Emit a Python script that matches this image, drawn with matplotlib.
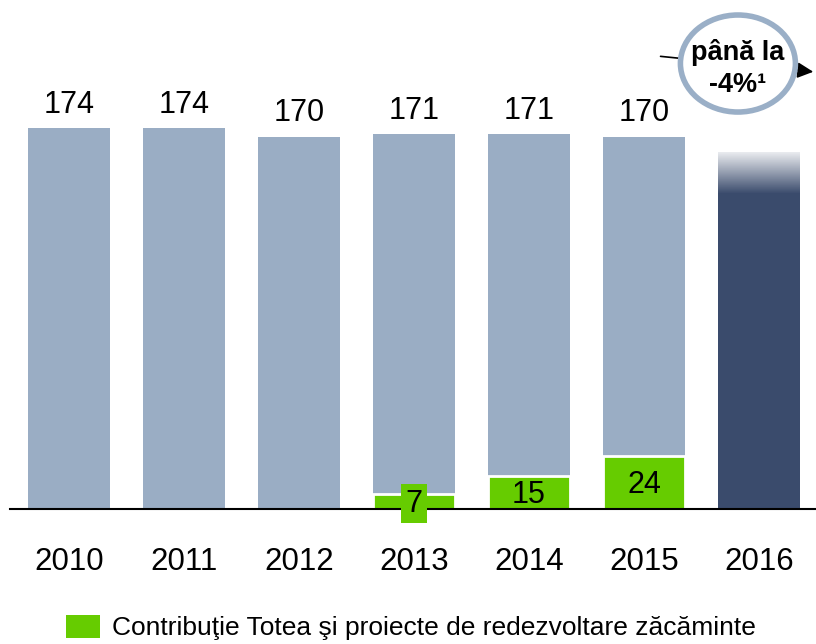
import numpy as np
import matplotlib
matplotlib.use('Agg')
import matplotlib.pyplot as plt
from matplotlib.patches import Ellipse, Patch

plt.rcParams['font.family'] = ['Liberation Sans', 'DejaVu Sans']

years = ['2010', '2011', '2012', '2013', '2014', '2015', '2016']
totals = [174, 174, 170, 171, 171, 170]
totea = [7, 15, 24]
totea_years = ['2013', '2014', '2015']
value_2016 = 163

gray = '#9aadc4'
green = '#66cc00'
navy = '#3a4b6c'

fig = plt.figure(figsize=(8.16, 6.44), dpi=100)
ax = fig.add_axes([0, 0.2096, 1, 0.7904])

x = np.arange(len(years))
xt = x[:len(totals)]
w = 0.713
ax.bar(xt, totals, width=w, color=gray, zorder=2)

# 2016 bar, top fades into white
ax.bar(x[6], value_2016, width=w, color=navy, zorder=2)
rgba = np.ones((100, 1, 4))
rgba[:, 0, 3] = np.linspace(0.9, 0, 100)
ax.imshow(rgba, extent=[x[6] - w / 2, x[6] + w / 2, value_2016 - 19, value_2016],
          aspect='auto', origin='upper', zorder=3, interpolation='bilinear')

gx = [years.index(y) for y in totea_years]
ax.bar(gx, totea, width=w, color=green, edgecolor='white', linewidth=2, zorder=3)

for xi, v in zip(xt, totals):
    ax.annotate(str(v), (xi, v), xytext=(0, 6), textcoords='offset points',
                ha='center', va='bottom', fontsize=22)

for xi, v in zip(gx, totea):
    if v < 10:
        ax.text(xi, v / 2 - 1, str(v), ha='center', va='center', fontsize=22, zorder=5,
                bbox=dict(facecolor=green, edgecolor='none', pad=3))
    else:
        ax.text(xi, v / 2 - 1, str(v), ha='center', va='center', fontsize=22, zorder=5)

ax.set_xlim(-0.6, 6.496)
ax.set_ylim(0, 232.4)
ax.set_xticks(x)
ax.set_xticklabels(years, fontsize=22.5)
ax.tick_params(axis='x', length=0, pad=27)
ax.set_yticks([])
for s in ['left', 'right', 'top']:
    ax.spines[s].set_visible(False)
ax.spines['bottom'].set_linewidth(1.5)
ax.spines['bottom'].set_bounds(-0.513, 6.496)
ax.spines['bottom'].set_zorder(4)

# callout
ax.annotate('', xy=(6.496, 199.5), xytext=(5.12, 206.8),
            arrowprops=dict(arrowstyle='-|>', color='black', lw=1.2, mutation_scale=24),
            annotation_clip=False, zorder=5)
ax.add_patch(Ellipse((5.817, 203.4), 1.0, 44.3, facecolor='white', edgecolor='#9aafc7',
                     linewidth=4, zorder=6, clip_on=False))
ax.text(5.817, 208.5, 'până la', ha='center', va='center', fontsize=19.5, fontweight='bold', zorder=7)
ax.text(5.817, 193.5, '-4%¹', ha='center', va='center', fontsize=19.5, fontweight='bold', zorder=7)

fig.legend(handles=[Patch(facecolor=green)],
           labels=['Contribuţie Totea şi proiecte de redezvoltare zăcăminte'],
           loc='lower left', bbox_to_anchor=(0.052, -0.031), frameon=False, fontsize=19,
           handlelength=1.3, handleheight=0.95, handletextpad=0.45)

fig.savefig('out.png', dpi=100)
